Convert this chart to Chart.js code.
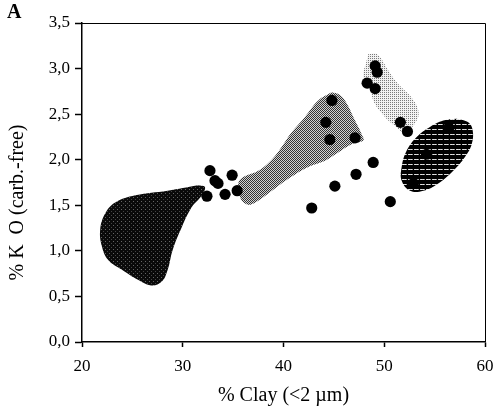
<!DOCTYPE html>
<html>
<head>
<meta charset="utf-8">
<script src="https://cdn.jsdelivr.net/npm/chart.js@4/dist/chart.umd.min.js"></script>
<style>
  html, body { margin: 0; padding: 0; background: #fff; }
  #wrap { width: 497px; height: 411px; }
</style>
</head>
<body>
<div id="wrap"><canvas id="c" width="497" height="411"></canvas></div>
<script>
// ---- data ----
const dotClay = [32.7, 33.2, 33.5, 34.9, 34.2, 35.4, 32.4, 44.8, 44.2, 44.6, 47.1, 49.1, 49.3, 48.3, 49.1, 51.6, 52.3, 48.9, 47.2, 45.1, 42.8, 50.6, 56.4, 54.2, 52.9];
const dotK2O  = [1.88, 1.77, 1.74, 1.83, 1.62, 1.66, 1.60, 2.65, 2.41, 2.22, 2.24, 3.03, 2.96, 2.84, 2.78, 2.41, 2.31, 1.97, 1.84, 1.71, 1.47, 1.54, 2.35, 2.06, 1.74];

const blobClay = [31.5, 28.5, 25.3, 23.3, 22.3, 21.8, 22.0, 22.6, 24.0, 25.6, 26.9, 27.9, 28.5, 29.0, 29.9, 30.9, 31.9, 32.2, 31.5];
const blobK2O  = [1.72, 1.66, 1.61, 1.53, 1.41, 1.23, 1.04, 0.90, 0.79, 0.68, 0.62, 0.66, 0.79, 1.01, 1.26, 1.48, 1.61, 1.70, 1.72];

const bandClay = [44.78, 43.45, 42.13, 40.81, 39.82, 38.83, 37.50, 36.01, 35.51, 35.68, 36.18, 36.84, 38.49, 40.48, 42.46, 44.12, 45.44, 46.77, 47.92, 47.76, 47.10, 46.10, 45.44, 44.78];
const bandK2O  = [2.74, 2.65, 2.47, 2.30, 2.14, 2.00, 1.88, 1.81, 1.74, 1.59, 1.52, 1.51, 1.63, 1.79, 1.92, 1.99, 2.08, 2.17, 2.21, 2.28, 2.43, 2.65, 2.72, 2.74];

const lightClay = [48.42, 49.25, 49.75, 50.40, 51.39, 52.72, 53.38, 53.22, 52.06, 51.07, 50.07, 49.08, 48.59, 47.92, 48.26, 48.42];
const lightK2O  = [3.16, 3.16, 3.10, 2.98, 2.83, 2.68, 2.54, 2.43, 2.30, 2.37, 2.47, 2.61, 2.76, 2.90, 3.09, 3.16];

const ovalClay = [57.19, 58.34, 58.78, 58.68, 58.01, 56.85, 55.36, 53.88, 52.56, 51.73, 51.73, 52.23, 53.22, 54.54, 55.86, 57.19];
const ovalK2O  = [2.45, 2.41, 2.32, 2.17, 2.03, 1.88, 1.74, 1.66, 1.66, 1.77, 1.92, 2.10, 2.25, 2.36, 2.43, 2.45];

const xTickValues = [20, 30, 40, 50, 60];
const yTickLabels = ['0,0', '0,5', '1,0', '1,5', '2,0', '2,5', '3,0', '3,5'];

const panelLabel = 'A';
const xTitle = '% Clay (<2 µm)';
const yTitle = '% K  O (carb.-free)';

// ---- helpers ----
const toXY = (xs, ys) => xs.map((x, i) => ({ x: x, y: ys[i] }));

function makePattern(w, h, pixels, bg) {
  const c = document.createElement('canvas');
  c.width = w; c.height = h;
  const g = c.getContext('2d');
  g.fillStyle = bg; g.fillRect(0, 0, w, h);
  pixels.forEach(p => { g.fillStyle = p[2]; g.fillRect(p[0], p[1], 1, 1); });
  return g.createPattern(c, 'repeat');
}
const ctx = document.getElementById('c').getContext('2d');
const darkFill  = makePattern(4, 4, [[1, 1, '#666'], [3, 3, '#444']], '#0a0a0a');
const midFill   = makePattern(2, 2, [[0, 0, '#333'], [1, 1, '#333']], '#d2d2d2');
const lightFill = makePattern(2, 2, [[0, 0, '#7a7a7a']], '#f2f2f2');
const stripeFill = makePattern(6, 5, [[0, 4, '#cfcfcf'], [1, 4, '#e6e6e6'], [2, 4, '#cfcfcf'], [3, 4, '#e6e6e6'], [4, 4, '#9a9a9a']], '#000');

function shape(data, fill, order) {
  return {
    data: data, showLine: true, fill: 'shape', backgroundColor: fill,
    borderWidth: 0, borderColor: 'rgba(0,0,0,0)', pointRadius: 0, tension: 0.4, order: order
  };
}

const boxPlugin = {
  id: 'box',
  afterDraw(chart) {
    const a = chart.chartArea, g = chart.ctx;
    g.save();
    g.strokeStyle = '#000';
    g.lineWidth = 1;
    g.beginPath();
    g.moveTo(a.left, a.top + 0.5); g.lineTo(a.right + 0.5, a.top + 0.5); g.lineTo(a.right + 0.5, a.bottom);
    g.stroke();
    g.restore();
  }
};

const serif = 'Liberation Serif';

new Chart(ctx, {
  type: 'scatter',
  data: {
    datasets: [
      { data: toXY(dotClay, dotK2O), backgroundColor: '#000', borderColor: '#000', pointRadius: 5.6, borderWidth: 0, order: 0 },
      shape(toXY(ovalClay, ovalK2O), stripeFill, 1),
      shape(toXY(lightClay, lightK2O), lightFill, 2),
      shape(toXY(bandClay, bandK2O), midFill, 3),
      shape(toXY(blobClay, blobK2O), darkFill, 4)
    ]
  },
  options: {
    responsive: false,
    animation: false,
    devicePixelRatio: 1,
    layout: { padding: { left: 7, right: 12, top: 0, bottom: 0 } },
    plugins: {
      legend: { display: false },
      tooltip: { enabled: false },
      title: {
        display: true, text: panelLabel, align: 'start', color: '#000',
        font: { family: serif, size: 20, weight: 'bold', lineHeight: 1 },
        padding: { top: 3, bottom: 0 }
      }
    },
    scales: {
      x: {
        type: 'linear', min: 20, max: 60,
        afterBuildTicks(s) { s.ticks = xTickValues.map(v => ({ value: v })); },
        afterFit(s) { s.height = 69; s.paddingRight = 2; s.paddingLeft = 2; },
        ticks: { color: '#000', font: { family: serif, size: 17 }, padding: 9, maxRotation: 0,
                 callback: (v) => String(v) },
        grid: { display: true, drawOnChartArea: false, drawTicks: true, tickLength: 5, color: '#000', tickWidth: 1.5 },
        border: { display: true, color: '#000', width: 1.5 },
        title: { display: true, text: xTitle, color: '#000', font: { family: serif, size: 20, lineHeight: 1.2 },
                 padding: { top: 0, bottom: 3 } }
      },
      y: {
        type: 'linear', min: 0, max: 3.5,
        ticks: { stepSize: 0.5, color: '#000', font: { family: serif, size: 17 }, padding: 5,
                 callback: (v, i) => yTickLabels[Math.round(v / 0.5)] },
        afterFit(s) { s.width = 75; },
        grid: { display: true, drawOnChartArea: false, drawTicks: true, tickLength: 7, color: '#000', tickWidth: 1.5 },
        border: { display: true, color: '#000', width: 1.5 },
        title: { display: true, text: yTitle + '        ', color: '#000', font: { family: serif, size: 20, lineHeight: 1 },
                 padding: { top: 1, bottom: 0 } }
      }
    }
  },
  plugins: [boxPlugin]
});
</script>
</body>
</html>
